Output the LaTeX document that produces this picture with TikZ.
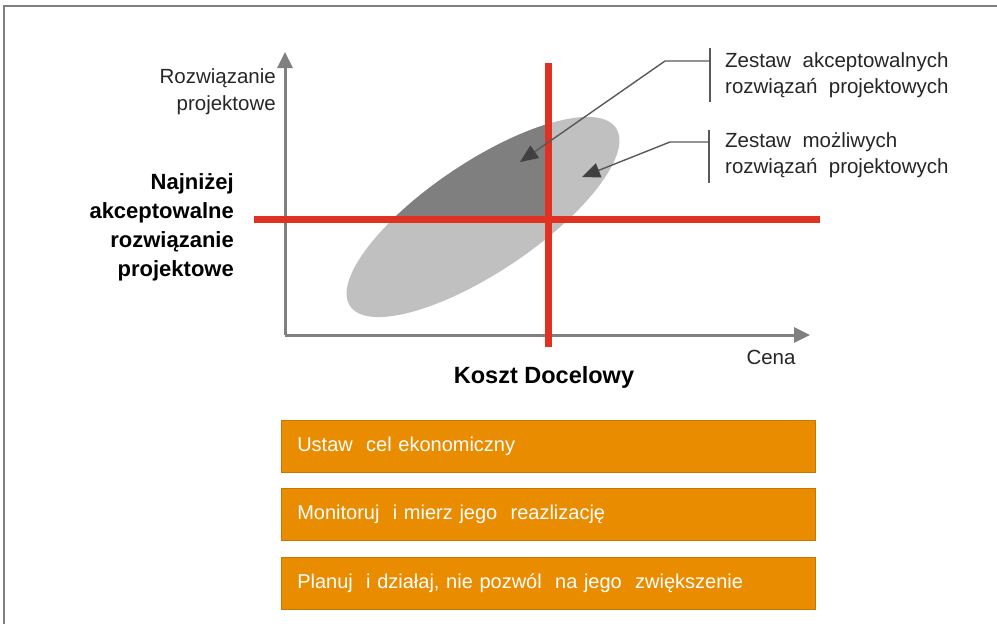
\documentclass[tikz,border=0pt]{standalone}
\usepackage{fontspec}
\setmainfont{Liberation Sans}
\usetikzlibrary{arrows.meta}
\definecolor{axisgray}{HTML}{808080}
\definecolor{lightell}{HTML}{C0C0C0}
\definecolor{darkell}{HTML}{7F7F7F}
\definecolor{redline}{HTML}{E03222}
\definecolor{pointgray}{HTML}{595959}
\definecolor{tipgray}{HTML}{404040}
\definecolor{orangebox}{HTML}{EA8C00}
\definecolor{txt}{HTML}{262626}
\tikzset{
  axisline/.style={draw=axisgray, line width=3pt, -{Triangle[width=15pt,length=16pt]}},
  redbar/.style={draw=redline, line width=7pt},
  pointer/.style={draw=pointgray, line width=1.4pt},
  pointerarrow/.style={pointer, -{Triangle[width=15pt,length=18pt,fill=tipgray,color=tipgray]}},
  lbl/.style={font=\fontsize{20.5}{26.5}\selectfont, text=txt, inner sep=0pt},
  boldlbl/.style={font=\fontsize{22}{29}\bfseries\selectfont, text=black, inner sep=0pt},
  stepbox/.style={fill=orangebox, draw=orangebox!85!black, line width=0.6pt, anchor=north west,
    minimum width=534pt, minimum height=52pt, text width=502pt, inner xsep=16pt, inner ysep=0pt,
    align=left, text=white, font=\fontsize{20}{24}\selectfont},
}
\begin{document}
\begin{tikzpicture}[x=1pt,y=-1pt]
\useasboundingbox (0,0) rectangle (997,624);
% frame
\draw[axisgray, line width=1.5pt] (4,624) -- (4,6) -- (997,6);
% ellipse
\fill[lightell] (483,217) ellipse[x radius=160, y radius=55, rotate=33.8];
\begin{scope}
  \clip (254,0) rectangle (548,219);
  \fill[darkell] (483,217) ellipse[x radius=160, y radius=55, rotate=33.8];
\end{scope}
% axes
\coordinate (origin) at (285,335);
\coordinate (ytip) at (285,52);
\coordinate (xtip) at (810,335);
\draw[axisline] (origin) -- (ytip);
\draw[axisline] (origin) -- (xtip);
% red lines
\coordinate (hl) at (254,219);
\coordinate (hr) at (820,219);
\coordinate (vt) at (548,63);
\coordinate (vb) at (548,347);
\draw[redbar] (hl) -- (hr);
\draw[redbar] (vt) -- (vb);
% labels
\node[lbl, anchor=west, align=left] (acc) at (725,75) {Zestaw\ \ akceptowalnych\\rozwiązań\ \ projektowych};
\node[lbl, anchor=west, align=left] (pos) at (725,155) {Zestaw\ \ możliwych\\rozwiązań\ \ projektowych};
\node[lbl, anchor=east, align=right] (ylab) at (276,91.5) {Rozwiązanie\\projektowe};
\node[boldlbl, anchor=east, align=right] (low) at (234,227) {Najniżej\\akceptowalne\\rozwiązanie\\projektowe};
\node[lbl] (cena) at (771,357) {Cena};
\node[boldlbl, font=\fontsize{23.5}{26}\bfseries\selectfont] (koszt) at (544,377) {Koszt Docelowy};
% pointers
\coordinate (b1t) at (710,48);
\coordinate (b1b) at (710,102);
\coordinate (b1m) at (710,61);
\coordinate (k1) at (665,61);
\coordinate (t1) at (520,162);
\draw[pointer] (b1t) -- (b1b);
\draw[pointerarrow] (b1m) -- (k1) -- (t1);
\coordinate (b2t) at (709,130);
\coordinate (b2b) at (709,183);
\coordinate (b2m) at (709,142);
\coordinate (k2) at (670,142);
\coordinate (t2) at (582,177);
\draw[pointer] (b2t) -- (b2b);
\draw[pointerarrow] (b2m) -- (k2) -- (t2);
% boxes
\node[stepbox] (s1) at (281,420) {Ustaw\ \ cel ekonomiczny};
\node[stepbox] (s2) at (281,488) {Monitoruj\ \ i mierz jego\ \ reazlizację};
\node[stepbox] (s3) at (281,557) {Planuj\ \ i działaj, nie pozwól\ \ na jego\ \ zwiększenie};
\end{tikzpicture}
\end{document}
